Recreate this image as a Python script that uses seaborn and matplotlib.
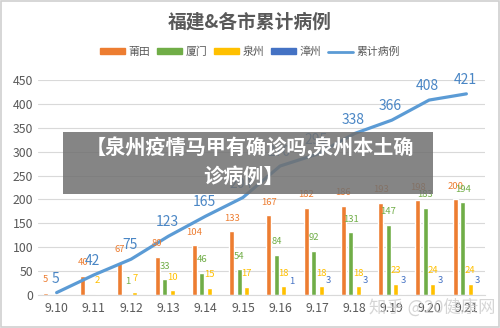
import numpy as np
import pandas as pd
import seaborn as sns
import matplotlib.pyplot as plt
from matplotlib.patches import Rectangle
from matplotlib.lines import Line2D

# Data
days = ['9.10', '9.11', '9.12', '9.13', '9.14', '9.15',
        '9.16', '9.17', '9.18', '9.19', '9.20', '9.21']
putian = [5, 40, 67, 80, 104, 133, 167, 182, 186, 193, 198, 200]
xiamen = [0, 0, 1, 33, 46, 54, 84, 92, 131, 147, 183, 194]
quanzhou = [0, 2, 7, 10, 15, 17, 18, 18, 18, 23, 24, 24]
zhangzhou = [0, 0, 0, 0, 0, 0, 1, 3, 3, 3, 3, 3]
total = [5, 42, 75, 123, 165, 204, 270, 295, 338, 366, 408, 421]

cities = ['莆田', '厦门', '泉州', '漳州']
colors = {'莆田': '#ED7D31', '厦门': '#70AD47', '泉州': '#FFC000', '漳州': '#4472C4'}
line_color = '#5B9BD5'
grey_text = '#595959'

sns.set_style("white")
plt.rcParams['font.family'] = ['Noto Sans CJK SC', 'DejaVu Sans']

# Long-form table for seaborn
df = pd.DataFrame({
    'day': days * 4,
    'city': [c for c in cities for _ in days],
    'value': putian + xiamen + quanzhou + zhangzhou,
})

fig = plt.figure(figsize=(5, 3.28), dpi=100)
ax = fig.add_axes([0.076, 0.1006, 0.894, 0.6555])

sns.barplot(data=df, x='day', y='value', hue='city', hue_order=cities,
            palette=colors, width=0.8, gap=0.33, saturation=1,
            legend=False, ax=ax)

# Bar value labels (skip zero)
for container, city in zip(ax.containers, cities):
    for rect in container:
        h = rect.get_height()
        if h > 0:
            ax.annotate(f'{h:.0f}', (rect.get_x() + rect.get_width() / 2, h),
                        xytext=(0, 9.5), textcoords='offset points',
                        ha='center', va='center', fontsize=6.8,
                        color=colors[city])

# Cumulative line
xpos = np.arange(len(days))
sns.lineplot(x=xpos, y=total, color=line_color, linewidth=2.3, ax=ax)
for x, v in zip(xpos, total):
    ax.annotate(str(v), (x, v), xytext=(-1, 10), textcoords='offset points',
                ha='center', va='center', fontsize=10, color='#4A86C5')

ax.set_ylim(0, 450)
ax.set_xlim(-0.5, len(days) - 0.5)
ax.set_yticks(range(0, 451, 50))
ax.set_xlabel('')
ax.set_ylabel('')
ax.yaxis.grid(True, color='#D9D9D9', linewidth=0.8)
ax.set_axisbelow(True)
for s in ['top', 'right', 'left']:
    ax.spines[s].set_visible(False)
ax.spines['bottom'].set_color('#D9D9D9')
ax.tick_params(axis='both', length=0, labelsize=8.8, colors=grey_text)
ax.tick_params(axis='x', pad=5)

# Title and legend
fig.text(0.5, 0.932, '福建&各市累计病例', ha='center', va='center',
         fontsize=13.5, fontweight='bold', color=grey_text)
handles = [Rectangle((0, 0), 1, 1, color=colors[c]) for c in cities]
handles.append(Line2D([0], [0], color=line_color, linewidth=2))
fig.legend(handles, cities + ['累计病例'], loc='center', bbox_to_anchor=(0.5, 0.842),
           ncol=5, frameon=False, fontsize=7.8, handlelength=2.3, handleheight=0.5,
           columnspacing=0.6, handletextpad=0.35, labelcolor=grey_text)

# Overlay caption box
fig.patches.append(Rectangle((0.126, 0.408), 0.74, 0.19, transform=fig.transFigure,
                             facecolor='#707070', alpha=0.85, edgecolor='none', zorder=5))
fig.text(0.5, 0.548, '【泉州疫情马甲有确诊吗,泉州本土确', ha='center', va='center',
         fontsize=14.5, fontweight='bold', color='white', zorder=6)
fig.text(0.487, 0.462, '诊病例】', ha='center', va='center',
         fontsize=14.5, fontweight='bold', color='white', zorder=6)

# Watermark
fig.text(0.865, 0.064, '知乎 @20健康网', ha='center', va='center',
         fontsize=12.5, color='#C8C8C8', alpha=0.75, zorder=6)

# Thin frame
fig.patches.append(Rectangle((0.002, 0.003), 0.996, 0.994, transform=fig.transFigure,
                             facecolor='none', edgecolor='#D0D0D0', linewidth=1.2))

fig.savefig('out.png', dpi=100)
